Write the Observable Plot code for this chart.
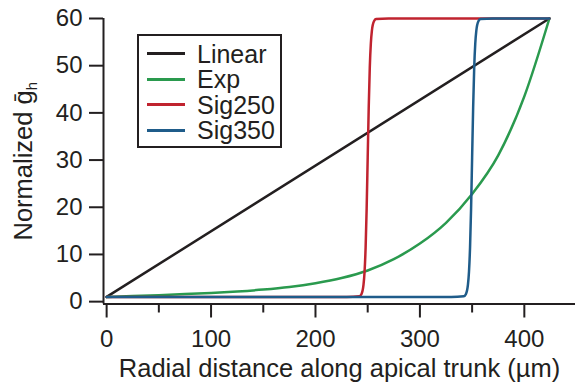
<!DOCTYPE html>
<html>
<head>
<meta charset="utf-8">
<script src="https://cdn.jsdelivr.net/npm/d3@7"></script>
<script src="https://cdn.jsdelivr.net/npm/@observablehq/plot@0.6"></script>
<style>
  html, body { margin: 0; padding: 0; background: #fff; }
  #wrap { position: relative; width: 575px; height: 388px; font-family: "Liberation Sans", Arial, Helvetica, sans-serif; color: #231f20; }
  #legend { position: absolute; left: 137px; top: 34px; width: 141px; height: 110px; border: 2px solid #231f20; box-sizing: content-box; padding: 0; }
  .row { position: absolute; left: 0; height: 26px; line-height: 26px; font-size: 25px; white-space: nowrap; }
  .sw { position: absolute; left: 8px; top: 11.5px; width: 38px; height: 3px; }
  .lab { position: absolute; left: 58px; top: 0; }
</style>
</head>
<body>
<div id="wrap"><div id="legend"></div></div>
<script>
// ---- data ----
const seriesNames = ["Linear", "Exp", "Sig250", "Sig350"];
const seriesColors = ["#231f20", "#2a9a4e", "#c0232f", "#1f5c8a"];

const linearX = [0, 424];
const linearY = [1, 60];

const expX = [0, 25, 50, 75, 100, 125, 150, 175, 200, 225, 250, 275, 300, 325, 350, 375, 400, 424];
const expY = [1.0, 1.18, 1.38, 1.6, 1.85, 2.15, 2.55, 3.1, 3.9, 5.0, 6.6, 9.0, 12.3, 16.7, 22.8, 31.0, 43.5, 60];

const sig250X = [0, 230, 242, 244, 246, 247, 248, 249, 250, 251, 252, 253, 254, 256, 258, 270, 424];
const sig250Y = [1, 1, 1.13, 1.58, 3.6, 6.34, 11.4, 19.7, 30.5, 41.3, 49.6, 54.66, 57.4, 59.42, 59.87, 60, 60];

const sig350X = [0, 330, 342, 344, 346, 347, 348, 349, 350, 351, 352, 353, 354, 356, 358, 370, 424];
const sig350Y = [1, 1, 1.13, 1.58, 3.6, 6.34, 11.4, 19.7, 30.5, 41.3, 49.6, 54.66, 57.4, 59.42, 59.87, 60, 60];

const yTicks = [0, 10, 20, 30, 40, 50, 60];
const xMajorTicks = [0, 100, 200, 300, 400];
const xMinorTicks = [50, 150, 250, 350];
const xLabel = "Radial distance along apical trunk (µm)";
const yLabel = "Normalized ḡh";

// ---- build table ----
const allX = [linearX, expX, sig250X, sig350X];
const allY = [linearY, expY, sig250Y, sig350Y];
const rows = [];
seriesNames.forEach((name, i) => {
  allX[i].forEach((x, j) => rows.push({series: name, x, y: allY[i][j]}));
});

const ink = "#231f20";
const chart = Plot.plot({
  width: 575,
  height: 388,
  marginLeft: 103,
  marginRight: 0,
  marginTop: 18,
  marginBottom: 84.5,
  style: {fontFamily: "'Liberation Sans', Arial, Helvetica, sans-serif", fontSize: "24px", color: ink, background: "white", overflow: "visible"},
  x: {domain: [-3, 449]},
  y: {domain: [-0.5, 60]},
  color: {domain: seriesNames, range: seriesColors},
  marks: [
    Plot.axisY({ticks: yTicks, tickSize: 14, tickPadding: 7, strokeWidth: 2, fontSize: 24,
      label: null}),
    Plot.axisY({ticks: [], tickSize: 0, fontSize: 25.5,
      label: yLabel, labelAnchor: "center", labelOffset: 90, labelArrow: "none"}),
    Plot.axisX({ticks: xMajorTicks, tickSize: 14, tickPadding: 12, strokeWidth: 2, fontSize: 24,
      label: null}),
    Plot.axisX({ticks: [], tickSize: 0, fontSize: 25.5,
      label: xLabel, labelAnchor: "center", labelOffset: 73, labelArrow: "none"}),
    Plot.axisX({ticks: xMinorTicks, tickSize: 9, strokeWidth: 2, tickFormat: () => "", label: null}),
    Plot.ruleX([-3], {stroke: ink, strokeWidth: 2}),
    Plot.ruleY([-0.5], {stroke: ink, strokeWidth: 2}),
    Plot.line(rows, {x: "x", y: "y", z: "series", stroke: "series", strokeWidth: 2.5, curve: "monotone-x"})
  ]
});
document.getElementById("wrap").prepend(chart);

// subscript h in the y label
chart.querySelectorAll("text").forEach(t => {
  if (t.textContent === yLabel) {
    const tn = t.querySelector("tspan") || t;
    tn.textContent = "Normalized ḡ";
    const sub = document.createElementNS("http://www.w3.org/2000/svg", "tspan");
    sub.setAttribute("font-size", "15");
    sub.setAttribute("dy", "0.35em");
    sub.textContent = "h";
    tn.appendChild(sub);
  }
});

// legend
const leg = document.getElementById("legend");
seriesNames.forEach((name, i) => {
  const r = document.createElement("div");
  r.className = "row";
  r.style.top = (4.5 + i * 25.5) + "px";
  const sw = document.createElement("div");
  sw.className = "sw";
  sw.style.background = seriesColors[i];
  const lb = document.createElement("span");
  lb.className = "lab";
  lb.textContent = name;
  r.appendChild(sw); r.appendChild(lb);
  leg.appendChild(r);
});
</script>
</body>
</html>
